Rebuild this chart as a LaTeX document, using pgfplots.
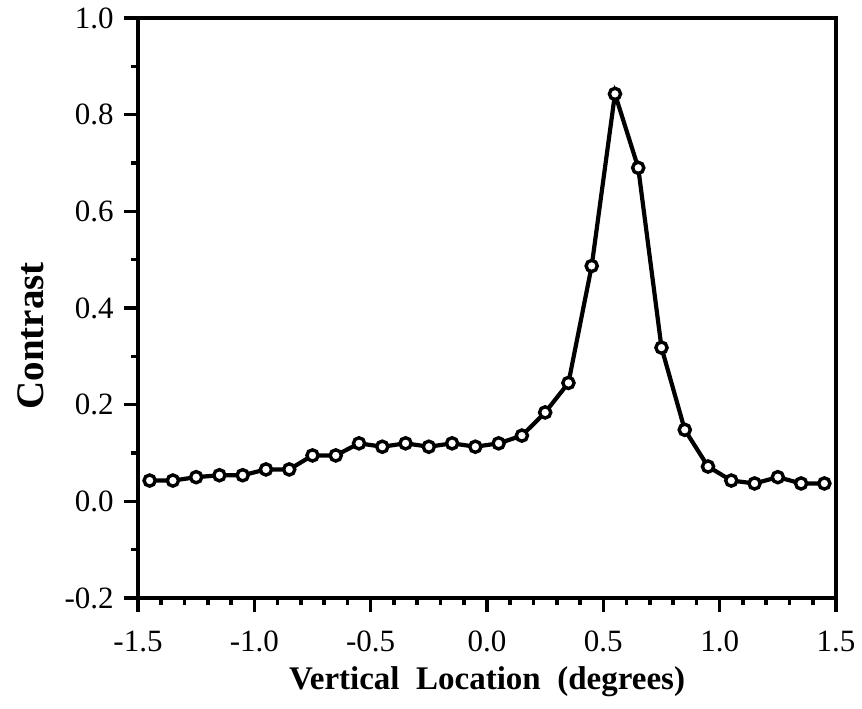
\documentclass[border=0pt]{standalone}
\usepackage{pgfplots}
\pgfplotsset{compat=1.18}
\usepackage{fontspec}
\setmainfont{Liberation Serif}
\begin{document}
\fontsize{15.5}{19}\selectfont
\begin{tikzpicture}
\begin{axis}[
  scale only axis,
  width=349pt, height=290pt,
  xmin=-1.5, xmax=1.5, ymin=-0.2, ymax=1.0,
  axis line style={line width=2.3pt},
  xtick pos=bottom, ytick pos=left,
  xtick={-1.5,-1.0,...,1.5},
  minor x tick num=4,
  ytick={-0.2,0,...,1.0},
  minor y tick num=1,
  tick align=outside,
  major tick length=6.8pt, minor tick length=3.5pt,
  tick style={line width=1.8pt, black},
  xticklabel style={yshift=-4.5pt, /pgf/number format/.cd, fixed, fixed zerofill, precision=1, assume math mode=true},
  yticklabel style={/pgf/number format/.cd, fixed, fixed zerofill, precision=1, assume math mode=true},
  xlabel={\fontsize{16.5}{19}\selectfont\bfseries Vertical\ \ Location\ \ (degrees)},
  ylabel={\fontsize{19.5}{22}\selectfont\bfseries Contrast},
  xlabel style={at={(axis description cs:0.5,-0.1586)}, anchor=base, inner sep=0pt},
  ylabel style={at={(axis description cs:-0.1533,0.452)}, anchor=center, rotate=0, inner sep=0pt},
]
\addplot[black, line width=2.1pt, mark=*, mark size=2.8pt,
  mark options={fill=white, line width=1.7pt}] coordinates {
  (-1.45,0.043) (-1.35,0.043) (-1.25,0.050) (-1.15,0.054) (-1.05,0.054)
  (-0.95,0.066) (-0.85,0.066) (-0.75,0.095) (-0.65,0.095) (-0.55,0.120)
  (-0.45,0.113) (-0.35,0.120) (-0.25,0.113) (-0.15,0.120) (-0.05,0.113)
  (0.05,0.120) (0.15,0.136) (0.25,0.184) (0.35,0.245) (0.45,0.487)
  (0.55,0.843) (0.65,0.690) (0.75,0.318) (0.85,0.148) (0.95,0.072)
  (1.05,0.043) (1.15,0.037) (1.25,0.050) (1.35,0.037) (1.45,0.037)
};
\end{axis}
\pgfresetboundingbox
\path ([shift={(-69pt,-55pt)}]current axis.south west) rectangle ([shift={(13pt,9pt)}]current axis.north east);
\end{tikzpicture}
\end{document}
